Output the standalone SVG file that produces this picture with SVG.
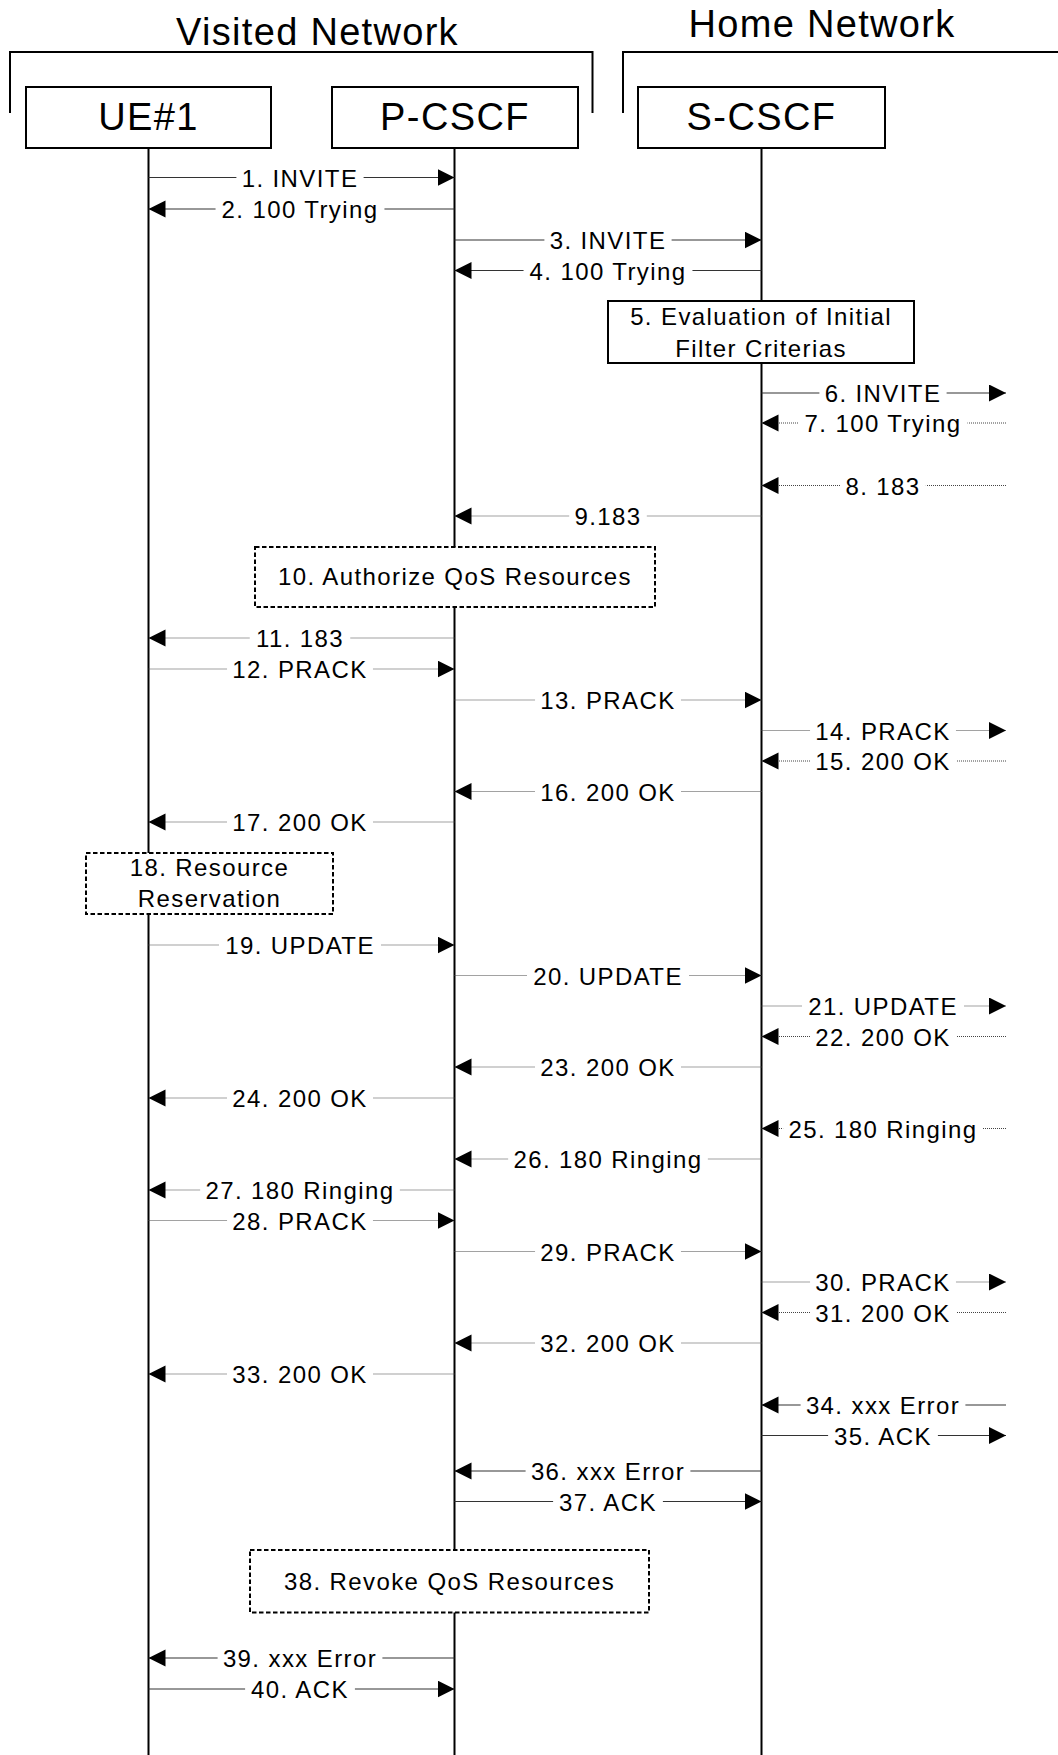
<svg xmlns="http://www.w3.org/2000/svg" width="1058" height="1755" viewBox="0 0 1058 1755">
<style>
text{font-family:"Liberation Sans",Arial,sans-serif;fill:#000;text-anchor:middle}
.hdr{font-size:38px;letter-spacing:1.3px}
.ent{font-size:38px;letter-spacing:1.4px}
.m,.bt{font-size:24px;letter-spacing:1.4px}
.box{fill:#fff;stroke:#000;stroke-width:2}
.dbox{fill:#fff;stroke:#000;stroke-width:2;stroke-dasharray:4.5 2.5}
.life{stroke:#000;stroke-width:2;fill:none}
.br{stroke:#000;stroke-width:2;fill:none}
.s{stroke:#333;stroke-width:1.2;fill:none;marker-end:url(#ah)}
.d{stroke:#444;stroke-width:1.2;fill:none;stroke-dasharray:1 1;marker-end:url(#ah)}
.bg{fill:#fff}
</style>
<defs>
<marker id="ah" markerUnits="userSpaceOnUse" markerWidth="18" markerHeight="18" refX="17" refY="8.5" orient="auto" viewBox="0 0 18 18">
<path d="M0,0 L17,8.5 L0,17 z" fill="#000"/>
</marker>
</defs>
<rect width="1058" height="1755" fill="#fff"/>

<g id="visited-network">
<path class="br" d="M10,113 V52 H592.5 V113"/>
<text class="hdr" x="317.5" y="45">Visited Network</text>
</g>
<g id="home-network">
<path class="br" d="M623,113 V52 H1058"/>
<text class="hdr" x="822" y="37">Home Network</text>
</g>

<g id="lifelines">
<line class="life" x1="148.5" y1="148" x2="148.5" y2="1755"/>
<line class="life" x1="454.5" y1="148" x2="454.5" y2="1755"/>
<line class="life" x1="761.5" y1="148" x2="761.5" y2="1755"/>
</g>

<g id="ue1">
<rect class="box" x="26" y="87" width="245" height="61"/>
<text class="ent" x="148.5" y="130">UE#1</text>
</g>
<g id="pcscf">
<rect class="box" x="332" y="87" width="246" height="61"/>
<text class="ent" x="455" y="130">P-CSCF</text>
</g>
<g id="scscf">
<rect class="box" x="638" y="87" width="247" height="61"/>
<text class="ent" x="761.5" y="130">S-CSCF</text>
</g>

<g id="step5">
<rect class="box" x="608" y="301" width="306" height="62"/>
<text class="bt" x="761" y="325">5. Evaluation of Initial</text>
<text class="bt" x="761" y="357">Filter Criterias</text>
</g>
<g id="step10">
<rect class="dbox" x="255" y="547" width="400" height="60"/>
<text class="bt" x="455" y="585">10. Authorize QoS Resources</text>
</g>
<g id="step18">
<rect class="dbox" x="86" y="853" width="247" height="61"/>
<text class="bt" x="209.5" y="876">18. Resource</text>
<text class="bt" x="209.5" y="907">Reservation</text>
</g>
<g id="step38">
<rect class="dbox" x="250" y="1550" width="399" height="62.5"/>
<text class="bt" x="449.5" y="1590">38. Revoke QoS Resources</text>
</g>

<g id="connectors">
<g><line class="s" x1="148.5" y1="177.5" x2="454.5" y2="177.5"/><rect class="bg" x="236.4" y="173.5" width="127.2" height="8"/><text class="m" x="300" y="186.5">1. INVITE</text></g>
<g><line class="s" x1="454.5" y1="209" x2="148.5" y2="209"/><rect class="bg" x="215.55" y="205" width="168.9" height="8"/><text class="m" x="300" y="218">2. 100 Trying</text></g>
<g><line class="s" x1="454.5" y1="240" x2="761.5" y2="240"/><rect class="bg" x="544.4" y="236" width="127.2" height="8"/><text class="m" x="608" y="249">3. INVITE</text></g>
<g><line class="s" x1="761.5" y1="270.5" x2="454.5" y2="270.5"/><rect class="bg" x="523.55" y="266.5" width="168.9" height="8"/><text class="m" x="608" y="279.5">4. 100 Trying</text></g>
<g><line class="s" x1="761.5" y1="393" x2="1006" y2="393"/><rect class="bg" x="819.4" y="389" width="127.2" height="8"/><text class="m" x="883" y="402">6. INVITE</text></g>
<g><line class="d" x1="1006" y1="423" x2="761.5" y2="423"/><rect class="bg" x="798.55" y="419" width="168.9" height="8"/><text class="m" x="883" y="432">7. 100 Trying</text></g>
<g><line class="d" x1="1006" y1="485.5" x2="761.5" y2="485.5"/><rect class="bg" x="840.15" y="481.5" width="85.7" height="8"/><text class="m" x="883" y="494.5">8. 183</text></g>
<g><line class="d" x1="761.5" y1="516" x2="454.5" y2="516"/><rect class="bg" x="569.2" y="512" width="77.6" height="8"/><text class="m" x="608" y="525">9.183</text></g>
<g><line class="d" x1="454.5" y1="638" x2="148.5" y2="638"/><rect class="bg" x="249.75" y="634" width="100.5" height="8"/><text class="m" x="300" y="647">11. 183</text></g>
<g><line class="d" x1="148.5" y1="669" x2="454.5" y2="669"/><rect class="bg" x="227.05" y="665" width="145.9" height="8"/><text class="m" x="300" y="678">12. PRACK</text></g>
<g><line class="d" x1="454.5" y1="700" x2="761.5" y2="700"/><rect class="bg" x="535.05" y="696" width="145.9" height="8"/><text class="m" x="608" y="709">13. PRACK</text></g>
<g><line class="d" x1="761.5" y1="730.5" x2="1006" y2="730.5"/><rect class="bg" x="810.05" y="726.5" width="145.9" height="8"/><text class="m" x="883" y="739.5">14. PRACK</text></g>
<g><line class="d" x1="1006" y1="761" x2="761.5" y2="761"/><rect class="bg" x="810" y="757" width="146" height="8"/><text class="m" x="883" y="770">15. 200 OK</text></g>
<g><line class="d" x1="761.5" y1="791.5" x2="454.5" y2="791.5"/><rect class="bg" x="535" y="787.5" width="146" height="8"/><text class="m" x="608" y="800.5">16. 200 OK</text></g>
<g><line class="d" x1="454.5" y1="822" x2="148.5" y2="822"/><rect class="bg" x="227" y="818" width="146" height="8"/><text class="m" x="300" y="831">17. 200 OK</text></g>
<g><line class="d" x1="148.5" y1="945" x2="454.5" y2="945"/><rect class="bg" x="219" y="941" width="162" height="8"/><text class="m" x="300" y="954">19. UPDATE</text></g>
<g><line class="d" x1="454.5" y1="975.5" x2="761.5" y2="975.5"/><rect class="bg" x="527" y="971.5" width="162" height="8"/><text class="m" x="608" y="984.5">20. UPDATE</text></g>
<g><line class="d" x1="761.5" y1="1006" x2="1006" y2="1006"/><rect class="bg" x="802" y="1002" width="162" height="8"/><text class="m" x="883" y="1015">21. UPDATE</text></g>
<g><line class="d" x1="1006" y1="1036.5" x2="761.5" y2="1036.5"/><rect class="bg" x="810" y="1032.5" width="146" height="8"/><text class="m" x="883" y="1045.5">22. 200 OK</text></g>
<g><line class="d" x1="761.5" y1="1067" x2="454.5" y2="1067"/><rect class="bg" x="535" y="1063" width="146" height="8"/><text class="m" x="608" y="1076">23. 200 OK</text></g>
<g><line class="d" x1="454.5" y1="1098" x2="148.5" y2="1098"/><rect class="bg" x="227" y="1094" width="146" height="8"/><text class="m" x="300" y="1107">24. 200 OK</text></g>
<g><line class="d" x1="1006" y1="1128.5" x2="761.5" y2="1128.5"/><rect class="bg" x="783.15" y="1124.5" width="199.7" height="8"/><text class="m" x="883" y="1137.5">25. 180 Ringing</text></g>
<g><line class="d" x1="761.5" y1="1159" x2="454.5" y2="1159"/><rect class="bg" x="508.15" y="1155" width="199.7" height="8"/><text class="m" x="608" y="1168">26. 180 Ringing</text></g>
<g><line class="d" x1="454.5" y1="1190" x2="148.5" y2="1190"/><rect class="bg" x="200.15" y="1186" width="199.7" height="8"/><text class="m" x="300" y="1199">27. 180 Ringing</text></g>
<g><line class="d" x1="148.5" y1="1220.5" x2="454.5" y2="1220.5"/><rect class="bg" x="227.05" y="1216.5" width="145.9" height="8"/><text class="m" x="300" y="1229.5">28. PRACK</text></g>
<g><line class="d" x1="454.5" y1="1251.5" x2="761.5" y2="1251.5"/><rect class="bg" x="535.05" y="1247.5" width="145.9" height="8"/><text class="m" x="608" y="1260.5">29. PRACK</text></g>
<g><line class="d" x1="761.5" y1="1282" x2="1006" y2="1282"/><rect class="bg" x="810.05" y="1278" width="145.9" height="8"/><text class="m" x="883" y="1291">30. PRACK</text></g>
<g><line class="d" x1="1006" y1="1312.5" x2="761.5" y2="1312.5"/><rect class="bg" x="810" y="1308.5" width="146" height="8"/><text class="m" x="883" y="1321.5">31. 200 OK</text></g>
<g><line class="d" x1="761.5" y1="1343" x2="454.5" y2="1343"/><rect class="bg" x="535" y="1339" width="146" height="8"/><text class="m" x="608" y="1352">32. 200 OK</text></g>
<g><line class="d" x1="454.5" y1="1374" x2="148.5" y2="1374"/><rect class="bg" x="227" y="1370" width="146" height="8"/><text class="m" x="300" y="1383">33. 200 OK</text></g>
<g><line class="s" x1="1006" y1="1405" x2="761.5" y2="1405"/><rect class="bg" x="800.6" y="1401" width="164.8" height="8"/><text class="m" x="883" y="1414">34. xxx Error</text></g>
<g><line class="s" x1="761.5" y1="1435.5" x2="1006" y2="1435.5"/><rect class="bg" x="828.1" y="1431.5" width="109.8" height="8"/><text class="m" x="883" y="1444.5">35. ACK</text></g>
<g><line class="s" x1="761.5" y1="1471" x2="454.5" y2="1471"/><rect class="bg" x="525.6" y="1467" width="164.8" height="8"/><text class="m" x="608" y="1480">36. xxx Error</text></g>
<g><line class="s" x1="454.5" y1="1501.5" x2="761.5" y2="1501.5"/><rect class="bg" x="553.1" y="1497.5" width="109.8" height="8"/><text class="m" x="608" y="1510.5">37. ACK</text></g>
<g><line class="s" x1="454.5" y1="1658" x2="148.5" y2="1658"/><rect class="bg" x="217.6" y="1654" width="164.8" height="8"/><text class="m" x="300" y="1667">39. xxx Error</text></g>
<g><line class="s" x1="148.5" y1="1689" x2="454.5" y2="1689"/><rect class="bg" x="245.1" y="1685" width="109.8" height="8"/><text class="m" x="300" y="1698">40. ACK</text></g>
</g>
</svg>
